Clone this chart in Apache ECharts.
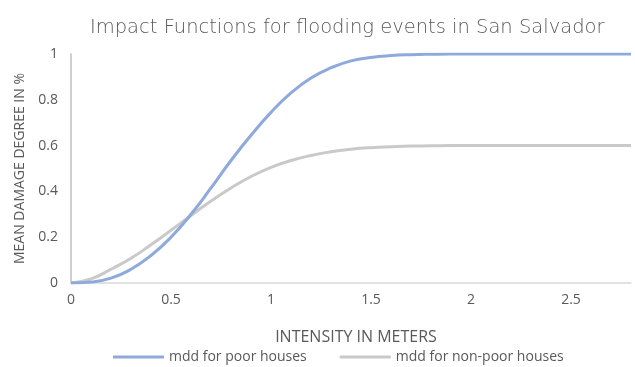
<!DOCTYPE html>
<html>
<head>
<meta charset="utf-8">
<script src="https://cdn.jsdelivr.net/npm/echarts@6/dist/echarts.min.js"></script>
<style>
  html, body { margin: 0; padding: 0; background: #fff; }
  #chart { width: 635px; height: 367px; }
</style>
</head>
<body>
<div id="chart"></div>
<script>
// Flood depth (m) sampled every 0.1 m
const depths = [0, 0.1, 0.2, 0.3, 0.4, 0.5, 0.6, 0.7, 0.8, 0.9, 1.0, 1.1, 1.2, 1.3, 1.4,
  1.5, 1.6, 1.7, 1.8, 1.9, 2.0, 2.1, 2.2, 2.3, 2.4, 2.5, 2.6, 2.7, 2.8];

// Mean damage degree, poor houses
const mddPoor = [0, 0.004, 0.021, 0.06, 0.12, 0.2, 0.30, 0.415, 0.535, 0.645, 0.745,
  0.83, 0.895, 0.94, 0.97, 0.985, 0.993, 0.997, 0.999, 1, 1, 1, 1, 1, 1, 1, 1, 1, 1];

// Mean damage degree, non-poor houses
const mddNonPoor = [0, 0.018, 0.06, 0.108, 0.167, 0.23, 0.295, 0.358, 0.415, 0.465, 0.505,
  0.535, 0.557, 0.573, 0.584, 0.591, 0.595, 0.598, 0.599, 0.6, 0.6, 0.6, 0.6, 0.6, 0.6,
  0.6, 0.6, 0.6, 0.6];

const xTicks = [0, 0.5, 1, 1.5, 2, 2.5];
const yTicks = [0, 0.2, 0.4, 0.6, 0.8, 1];

const seriesNames = ['mdd for poor houses', 'mdd for non-poor houses'];
const colors = ['#8EA9DB', '#C9C9C9'];
const textColor = '#595959';
const font = '"Open Sans", "Liberation Sans", sans-serif';

const pairs = vals => depths.map((d, i) => [d, vals[i]]);

const chart = echarts.init(document.getElementById('chart'), null, { renderer: 'canvas' });

chart.setOption({
  animation: false,
  backgroundColor: '#ffffff',
  color: colors,
  textStyle: { fontFamily: font },
  title: {
    text: 'Impact Functions for flooding events in San Salvador',
    left: 90,
    top: 18,
    padding: 0,
    textStyle: {
      color: textColor,
      fontSize: 19.5,
      fontWeight: 200,
      fontFamily: '"DejaVu Sans", sans-serif'
    }
  },
  grid: { left: 71, right: 4, top: 54, bottom: 84, containLabel: false },
  legend: {
    top: 350,
    left: 113,
    padding: 0,
    itemGap: 33,
    itemWidth: 51,
    itemHeight: 3,
    icon: 'rect',
    textStyle: { color: textColor, fontSize: 14, fontFamily: font },
    data: seriesNames
  },
  xAxis: {
    type: 'value',
    min: 0,
    max: 2.8,
    interval: 0.5,
    name: 'INTENSITY IN METERS',
    nameLocation: 'middle',
    nameGap: 46,
    nameTextStyle: { color: textColor, fontSize: 16, fontFamily: font, padding: [0, 0, 0, 10] },
    axisLine: { show: true, lineStyle: { color: '#D9D9D9', width: 1.5 } },
    axisTick: { show: false },
    splitLine: { show: false },
    axisLabel: {
      color: textColor,
      fontSize: 14,
      margin: 10,
      showMaxLabel: false,
      formatter: v => (xTicks.includes(v) ? String(v) : '')
    }
  },
  yAxis: {
    type: 'value',
    min: 0,
    max: 1,
    interval: 0.2,
    name: 'MEAN DAMAGE DEGREE IN %',
    nameLocation: 'middle',
    nameGap: 44,
    nameTextStyle: { color: textColor, fontSize: 14, fontFamily: font },
    axisLine: { show: true, lineStyle: { color: '#BFBFBF', width: 1.5 } },
    axisTick: { show: false },
    splitLine: { show: false },
    axisLabel: {
      color: textColor,
      fontSize: 14,
      margin: 13,
      formatter: v => {
        const t = yTicks.find(y => Math.abs(y - v) < 1e-9);
        return t === undefined ? '' : String(t);
      }
    }
  },
  series: [
    {
      name: seriesNames[0],
      type: 'line',
      data: pairs(mddPoor),
      smooth: true,
      showSymbol: false,
      lineStyle: { width: 3, color: colors[0] },
      z: 3
    },
    {
      name: seriesNames[1],
      type: 'line',
      data: pairs(mddNonPoor),
      smooth: true,
      showSymbol: false,
      lineStyle: { width: 3, color: colors[1] },
      z: 2
    }
  ]
});
</script>
</body>
</html>
